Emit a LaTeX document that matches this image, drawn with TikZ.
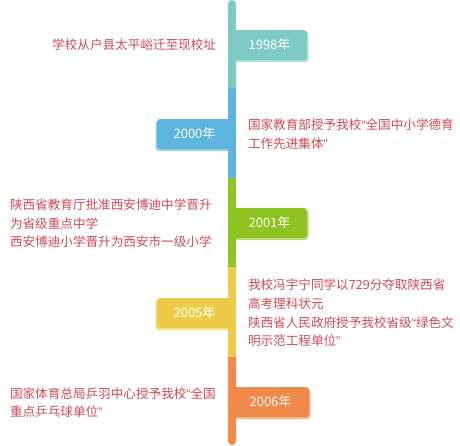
\documentclass[tikz,border=0pt]{standalone}
\usepackage{fontspec}
\setmainfont{Noto Sans CJK SC}
\newfontfamily\qtfont{Liberation Sans}
\usepackage{tikz}
\usetikzlibrary{positioning}
\usepackage{xcolor}
\definecolor{tealbar}{HTML}{7DCBC4}
\definecolor{tealshade}{HTML}{B3E4DF}
\definecolor{bluebar}{HTML}{5DB5DF}
\definecolor{blueshade}{HTML}{9DD1EC}
\definecolor{greenbar}{HTML}{8FC31F}
\definecolor{greenshade}{HTML}{BFDD7E}
\definecolor{yellowbar}{HTML}{EDCB48}
\definecolor{yellowshade}{HTML}{F5DF8C}
\definecolor{orangebar}{HTML}{F08A4B}
\definecolor{orangeshade}{HTML}{F7BA90}
\definecolor{eventred}{HTML}{CF4A56}
\newcommand{\lqt}{{\qtfont“}}
\newcommand{\rqt}{{\qtfont”}}

\begin{document}
\begin{tikzpicture}[
        x=1pt, y=-1pt,
        every node/.style={inner sep=0pt, outer sep=0pt},
        event/.style={text=eventred, align=left, font=\fontsize{12.6}{18.6}\selectfont},
        yeartag/.style={minimum width=75pt, minimum height=30pt, rounded corners=3pt, text=white, font=\fontsize{13}{14}\selectfont},
        shade/.style={minimum width=75pt, minimum height=30pt, rounded corners=3pt}
    ]
        \useasboundingbox[fill=white] (0,0) rectangle (460,445);

        % year tags (shadow first)
        \node[shade, fill=tealshade, anchor=west] at (233.5,47) {};
        \node[yeartag, fill=tealbar, anchor=west] (y1998) at (232,45) {1998年};
        \node[shade, fill=blueshade, anchor=east] at (230.5,136) {};
        \node[yeartag, fill=bluebar, anchor=east] (y2000) at (232,134) {2000年};
        \node[shade, fill=greenshade, anchor=west] at (233.5,225) {};
        \node[yeartag, fill=greenbar, anchor=west] (y2001) at (232,223) {2001年};
        \node[shade, fill=yellowshade, anchor=east] at (230.5,315) {};
        \node[yeartag, fill=yellowbar, anchor=east] (y2005) at (232,313) {2005年};
        \node[shade, fill=orangeshade, anchor=west, minimum width=77pt] at (233.5,404) {};
        \node[yeartag, fill=orangebar, anchor=west, minimum width=77pt] (y2006) at (232,402) {2006年};

        % timeline bar
        \fill[tealbar, rounded corners=4pt] (228,0) rectangle (236,94);
        \fill[orangebar, rounded corners=4pt] (228,352) rectangle (236,445);
        \fill[bluebar] (228,88) rectangle (236,178);
        \fill[greenbar] (228,178) rectangle (236,267);
        \fill[yellowbar] (228,267) rectangle (236,357);

        % events
        \node[event, anchor=east] (e1998) at (216,45) {学校从户县太平峪迁至现校址};
        \node[event, anchor=west] (e2000) at (248,134) {国家教育部授予我校\lqt 全国中小学德育\\工作先进集体\rqt};
        \node[event, anchor=west] (e2001) at (10,223.5) {陕西省教育厅批准西安博迪中学晋升\\为省级重点中学\\西安博迪小学晋升为西安市一级小学};
        \node[event, anchor=west] (e2005) at (248,313) {我校冯宇宁同学以729分夺取陕西省\\高考理科状元\\陕西省人民政府授予我校省级\lqt 绿色文\\明示范工程单位\rqt};
        \node[event, anchor=west] (e2006) at (10,402.5) {国家体育总局乒羽中心授予我校\lqt 全国\\重点乒乓球单位\rqt};
    \end{tikzpicture}
\end{document}
